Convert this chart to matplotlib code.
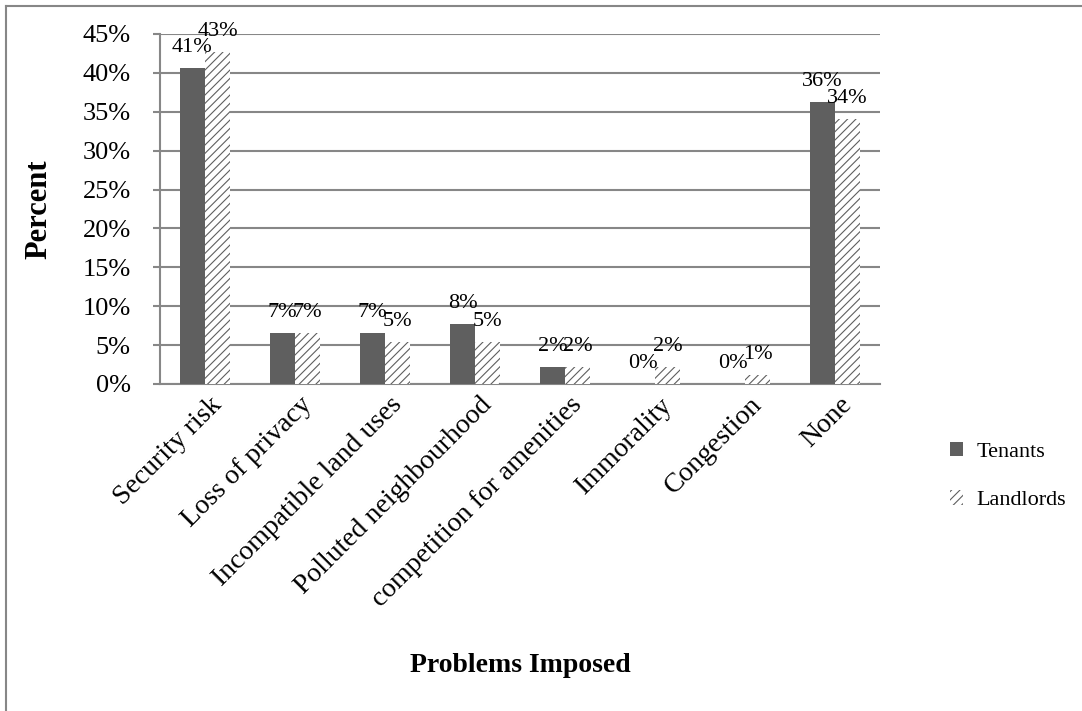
import numpy as np
import matplotlib
matplotlib.use("Agg")
import matplotlib.pyplot as plt
from matplotlib.lines import Line2D
from matplotlib.patches import Patch

# problems imposed, share of respondents (fraction)
categories = ["Security risk", "Loss of privacy", "Incompatible land uses",
              "Polluted neighbourhood", "competition for amenities",
              "Immorality", "Congestion", "None"]
tenants = [0.406, 0.066, 0.066, 0.077, 0.022, 0.0, 0.0, 0.362]
landlords = [0.427, 0.066, 0.054, 0.054, 0.022, 0.022, 0.011, 0.341]
yticks = [0.0, 0.05, 0.10, 0.15, 0.20, 0.25, 0.30, 0.35, 0.40, 0.45]

GRID = "#878787"
DARK = "#5f5f5f"

plt.rcParams["font.family"] = ["Liberation Serif", "DejaVu Serif"]
plt.rcParams["hatch.color"] = DARK
plt.rcParams["hatch.linewidth"] = 0.8

fig = plt.figure(figsize=(10.82, 7.11), dpi=100, facecolor="white")
ax = fig.add_axes([160 / 1082, 1 - 384 / 711, 720 / 1082, 350 / 711])

x = np.arange(len(categories))
w = 0.278
b1 = ax.bar(x - w / 2, tenants, w, color=DARK, zorder=3, label="Tenants")
b2 = ax.bar(x + w / 2, landlords, w, color="white", edgecolor=DARK,
            linewidth=0, hatch="////", zorder=3, label="Landlords")

# value labels above every bar
for bars, vals in ((b1, tenants), (b2, landlords)):
    for rect, v in zip(bars, vals):
        ax.annotate(f"{v * 100:.0f}%",
                    xy=(rect.get_x() + rect.get_width() / 2, v),
                    xytext=(0, 11.5), textcoords="offset points",
                    ha="center", va="baseline", fontsize=16, zorder=5)

ax.set_xlim(-0.5, len(categories) - 0.5)
ax.set_ylim(0, 0.45)
ax.set_yticks(yticks)
ax.set_yticklabels([f"{t * 100:.0f}%" for t in yticks], fontsize=19)
ax.yaxis.grid(True, color=GRID, linewidth=1.5, zorder=0)
ax.tick_params(axis="y", length=5, width=1.5, color=GRID, pad=16)

ax.set_xticks(x + 0.05)
ax.set_xticklabels(categories, rotation=45, ha="right", va="top",
                   rotation_mode="anchor", fontsize=20)
ax.tick_params(axis="x", length=0, pad=6)

for side in ("top", "right"):
    ax.spines[side].set_visible(False)
for side in ("left", "bottom"):
    ax.spines[side].set_color(GRID)
    ax.spines[side].set_linewidth(1.5)

ax.set_ylabel("Percent", fontsize=22, fontweight="bold")
ax.yaxis.set_label_coords((53 - 160) / 720, 0.5)
fig.text(520 / 1082, 1 - 665 / 711, "Problems Imposed", fontsize=20,
         fontweight="bold", ha="center", va="center")

handles = [Patch(facecolor=DARK, edgecolor="none", label="Tenants"),
           Patch(facecolor="white", edgecolor=DARK, linewidth=0,
                 hatch="////", label="Landlords")]
fig.legend(handles=handles, loc="center left",
           bbox_to_anchor=(950 / 1082, 1 - 476 / 711), frameon=False,
           fontsize=16, handlelength=0.6, handleheight=0.6,
           handletextpad=0.6, labelspacing=1.3, borderpad=0,
           borderaxespad=0)

# outer frame (top and left edges inside the canvas)
fig.add_artist(Line2D([5.5 / 1082, 1.0], [1 - 5.5 / 711] * 2,
                      transform=fig.transFigure, color=GRID, linewidth=1.5))
fig.add_artist(Line2D([5.5 / 1082] * 2, [0.0, 1 - 5.5 / 711],
                      transform=fig.transFigure, color=GRID, linewidth=1.5))

fig.savefig("out.png", dpi=100, facecolor="white")
